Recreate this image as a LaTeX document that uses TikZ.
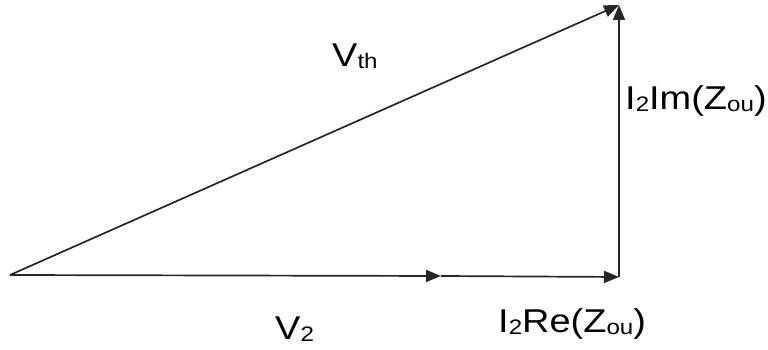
\documentclass[tikz,border=0pt]{standalone}
\usepackage{fontspec}
\setmainfont[FakeStretch=1.15]{Liberation Sans}
\usetikzlibrary{arrows.meta}
\newcommand{\lbsub}[1]{\raisebox{-2pt}{\fontsize{21}{23}\selectfont #1}}
\begin{document}
\begin{tikzpicture}[x=1pt,y=1pt,
  vec/.style={draw=black!85,line width=1.7pt,-{Triangle[length=15pt,width=12pt]}},
  lbl/.style={anchor=base west,inner sep=0pt,font=\fontsize{33}{36}\selectfont}]
\useasboundingbox (0,0) rectangle (768,350);
\coordinate (O) at (10,75);
\coordinate (M) at (441,74);
\coordinate (A) at (619,73);
\coordinate (B) at (619,345);
\draw[vec] (O) -- (M);
\draw[vec] (M) -- (A);
\draw[vec] (A) -- (B);
\draw[vec] (O) -- (B);
\node[lbl] (vth) at (332,283) {V\lbsub{th}};
\node[lbl] (v2) at (275,10) {V\lbsub{2}};
\node[lbl] (im) at (625,240) {I\lbsub{2}Im(Z\lbsub{ou})};
\node[lbl] (re) at (498,17) {I\lbsub{2}Re(Z\lbsub{ou})};
\end{tikzpicture}
\end{document}
